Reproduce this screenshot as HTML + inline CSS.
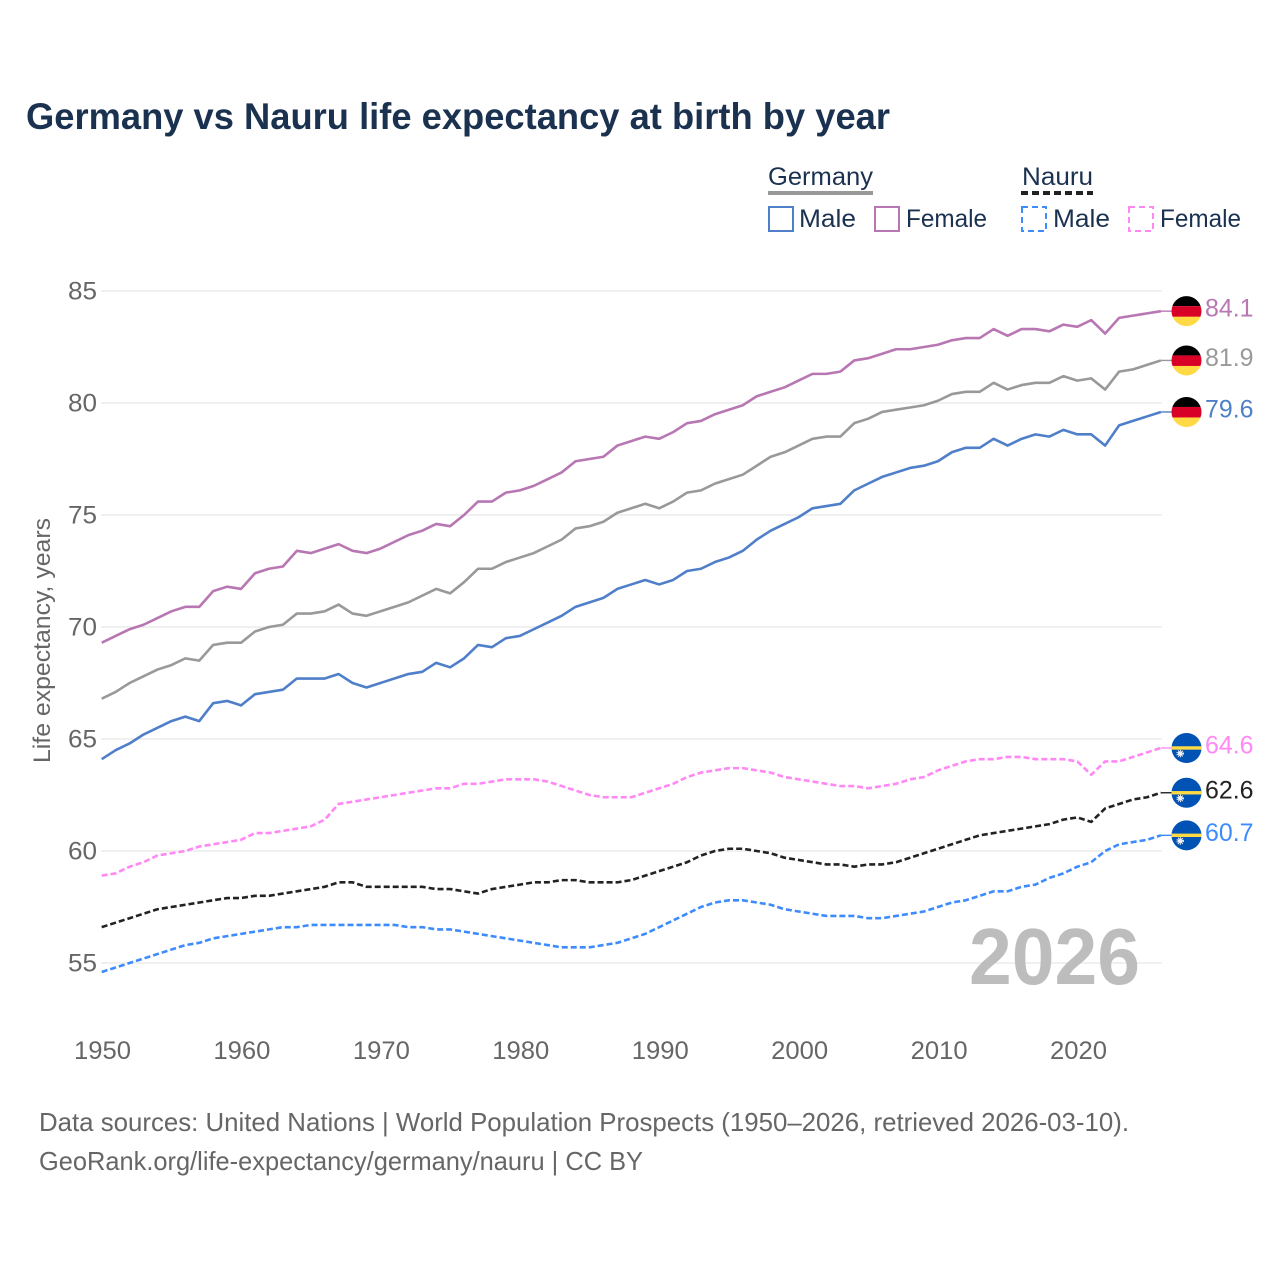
<!DOCTYPE html>
<html lang="en">
<head>
<meta charset="utf-8">
<title>Germany vs Nauru life expectancy at birth by year</title>
<style>
html,body{margin:0;padding:0;background:#fff;}
svg{display:block;font-family:"Liberation Sans",sans-serif;}
</style>
</head>
<body>
<svg id="chart" xmlns="http://www.w3.org/2000/svg" width="1280" height="1280" viewBox="0 0 1280 1280">
  <defs id="defs"></defs>
  <rect x="0" y="0" width="1280" height="1280" fill="#ffffff"/>
  <text x="26" y="129" font-size="37" font-weight="700" fill="#1a3150" textLength="864" lengthAdjust="spacingAndGlyphs">Germany vs Nauru life expectancy at birth by year</text>

  <g font-size="25" fill="#1a3150">
    <text x="768" y="185" textLength="105" lengthAdjust="spacingAndGlyphs">Germany</text>
    <line x1="768" x2="873" y1="193" y2="193" stroke="#999999" stroke-width="4"/>
    <rect x="769" y="207" width="24" height="24" fill="none" stroke="#4f7fc9" stroke-width="2"/>
    <text x="799" y="227" textLength="57" lengthAdjust="spacingAndGlyphs">Male</text>
    <rect x="875" y="207" width="24" height="24" fill="none" stroke="#b877b3" stroke-width="2"/>
    <text x="906" y="227" textLength="81" lengthAdjust="spacingAndGlyphs">Female</text>
    <text x="1022" y="185" textLength="71" lengthAdjust="spacingAndGlyphs">Nauru</text>
    <line x1="1021" x2="1093" y1="193" y2="193" stroke="#222222" stroke-width="4" stroke-dasharray="7,4"/>
    <rect x="1022" y="207" width="24" height="24" fill="none" stroke="#3d8bfd" stroke-width="2" stroke-dasharray="6,4"/>
    <text x="1053" y="227" textLength="57" lengthAdjust="spacingAndGlyphs">Male</text>
    <rect x="1129" y="207" width="24" height="24" fill="none" stroke="#ff88f5" stroke-width="2" stroke-dasharray="6,4"/>
    <text x="1160" y="227" textLength="81" lengthAdjust="spacingAndGlyphs">Female</text>
  </g>

  <g id="grid"></g>
  <g id="yticks"></g>
  <g id="xticks"></g>
  <text transform="translate(50,640.5) rotate(-90)" text-anchor="middle" font-size="24" fill="#666666" textLength="245" lengthAdjust="spacingAndGlyphs">Life expectancy, years</text>
  <text x="969" y="984" font-size="80" font-weight="700" fill="#bdbdbd" textLength="171" lengthAdjust="spacingAndGlyphs">2026</text>
  <g id="series"></g>
  <g id="endmarks"></g>

  <text x="39" y="1131" font-size="26" fill="#666666" textLength="1090" lengthAdjust="spacingAndGlyphs">Data sources: United Nations | World Population Prospects (1950–2026, retrieved 2026-03-10).</text>
  <text x="39" y="1170" font-size="26" fill="#666666" textLength="604" lengthAdjust="spacingAndGlyphs">GeoRank.org/life-expectancy/germany/nauru | CC BY</text>
</svg>
<script>
const firstYear = 1950;
const lastYear = 2026;
const xTickLabels = [1950, 1960, 1970, 1980, 1990, 2000, 2010, 2020];
const yTickLabels = [55, 60, 65, 70, 75, 80, 85];

const germanyFemale = [69.3,69.6,69.9,70.1,70.4,70.7,70.9,70.9,71.6,71.8,
  71.7,72.4,72.6,72.7,73.4,73.3,73.5,73.7,73.4,73.3,
  73.5,73.8,74.1,74.3,74.6,74.5,75.0,75.6,75.6,76.0,
  76.1,76.3,76.6,76.9,77.4,77.5,77.6,78.1,78.3,78.5,
  78.4,78.7,79.1,79.2,79.5,79.7,79.9,80.3,80.5,80.7,
  81.0,81.3,81.3,81.4,81.9,82.0,82.2,82.4,82.4,82.5,
  82.6,82.8,82.9,82.9,83.3,83.0,83.3,83.3,83.2,83.5,
  83.4,83.7,83.1,83.8,83.9,84.0,84.1];
const germanyTotal = [66.8,67.1,67.5,67.8,68.1,68.3,68.6,68.5,69.2,69.3,
  69.3,69.8,70.0,70.1,70.6,70.6,70.7,71.0,70.6,70.5,
  70.7,70.9,71.1,71.4,71.7,71.5,72.0,72.6,72.6,72.9,
  73.1,73.3,73.6,73.9,74.4,74.5,74.7,75.1,75.3,75.5,
  75.3,75.6,76.0,76.1,76.4,76.6,76.8,77.2,77.6,77.8,
  78.1,78.4,78.5,78.5,79.1,79.3,79.6,79.7,79.8,79.9,
  80.1,80.4,80.5,80.5,80.9,80.6,80.8,80.9,80.9,81.2,
  81.0,81.1,80.6,81.4,81.5,81.7,81.9];
const germanyMale = [64.1,64.5,64.8,65.2,65.5,65.8,66.0,65.8,66.6,66.7,
  66.5,67.0,67.1,67.2,67.7,67.7,67.7,67.9,67.5,67.3,
  67.5,67.7,67.9,68.0,68.4,68.2,68.6,69.2,69.1,69.5,
  69.6,69.9,70.2,70.5,70.9,71.1,71.3,71.7,71.9,72.1,
  71.9,72.1,72.5,72.6,72.9,73.1,73.4,73.9,74.3,74.6,
  74.9,75.3,75.4,75.5,76.1,76.4,76.7,76.9,77.1,77.2,
  77.4,77.8,78.0,78.0,78.4,78.1,78.4,78.6,78.5,78.8,
  78.6,78.6,78.1,79.0,79.2,79.4,79.6];
const nauruFemale = [58.9,59.0,59.3,59.5,59.8,59.9,60.0,60.2,60.3,60.4,
  60.5,60.8,60.8,60.9,61.0,61.1,61.4,62.1,62.2,62.3,
  62.4,62.5,62.6,62.7,62.8,62.8,63.0,63.0,63.1,63.2,
  63.2,63.2,63.1,62.9,62.7,62.5,62.4,62.4,62.4,62.6,
  62.8,63.0,63.3,63.5,63.6,63.7,63.7,63.6,63.5,63.3,
  63.2,63.1,63.0,62.9,62.9,62.8,62.9,63.0,63.2,63.3,
  63.6,63.8,64.0,64.1,64.1,64.2,64.2,64.1,64.1,64.1,
  64.0,63.4,64.0,64.0,64.2,64.4,64.6];
const nauruTotal = [56.6,56.8,57.0,57.2,57.4,57.5,57.6,57.7,57.8,57.9,
  57.9,58.0,58.0,58.1,58.2,58.3,58.4,58.6,58.6,58.4,
  58.4,58.4,58.4,58.4,58.3,58.3,58.2,58.1,58.3,58.4,
  58.5,58.6,58.6,58.7,58.7,58.6,58.6,58.6,58.7,58.9,
  59.1,59.3,59.5,59.8,60.0,60.1,60.1,60.0,59.9,59.7,
  59.6,59.5,59.4,59.4,59.3,59.4,59.4,59.5,59.7,59.9,
  60.1,60.3,60.5,60.7,60.8,60.9,61.0,61.1,61.2,61.4,
  61.5,61.3,61.9,62.1,62.3,62.4,62.6];
const nauruMale = [54.6,54.8,55.0,55.2,55.4,55.6,55.8,55.9,56.1,56.2,
  56.3,56.4,56.5,56.6,56.6,56.7,56.7,56.7,56.7,56.7,
  56.7,56.7,56.6,56.6,56.5,56.5,56.4,56.3,56.2,56.1,
  56.0,55.9,55.8,55.7,55.7,55.7,55.8,55.9,56.1,56.3,
  56.6,56.9,57.2,57.5,57.7,57.8,57.8,57.7,57.6,57.4,
  57.3,57.2,57.1,57.1,57.1,57.0,57.0,57.1,57.2,57.3,
  57.5,57.7,57.8,58.0,58.2,58.2,58.4,58.5,58.8,59.0,
  59.3,59.5,60.0,60.3,60.4,60.5,60.7];

const NS = 'http://www.w3.org/2000/svg';
const xScale = (year) => 101.7 + (year - firstYear) * (1160.9 - 101.7) / (lastYear - firstYear);
const xLabelScale = (year) => 102.5 + (year - firstYear) * 13.943;
const yScale = (value) => 963 - (value - 55) * 22.4;
const mk = (tag) => document.createElementNS(NS, tag);
const set = (el, props) => { for (const k in props) el.setAttribute(k, props[k]); return el; };

const gridG = document.getElementById('grid');
const yG = document.getElementById('yticks');
const xG = document.getElementById('xticks');
const seriesG = document.getElementById('series');
const endG = document.getElementById('endmarks');
const defs = document.getElementById('defs');

yTickLabels.forEach((v) => {
  const line = set(mk('line'), {x1: 101, x2: 1162, y1: yScale(v), y2: yScale(v), stroke: '#ececec', 'stroke-width': 1.5});
  
  
  gridG.appendChild(line);
  const t = set(mk('text'), {x: 97, y: yScale(v) + 8.5, 'text-anchor': 'end', 'font-size': 25, fill: '#666666', textLength: 29, lengthAdjust: 'spacingAndGlyphs'});
  
  
  t.textContent = v;
  yG.appendChild(t);
});

xTickLabels.forEach((yr) => {
  const t = set(mk('text'), {x: xLabelScale(yr), y: 1059, 'text-anchor': 'middle', 'font-size': 25, fill: '#666666', textLength: 57, lengthAdjust: 'spacingAndGlyphs'});
  
  
  t.textContent = yr;
  xG.appendChild(t);
});

function drawSeries(name, values, color, dash) {
  const pts = values.map((v, i) => xScale(firstYear + i).toFixed(2) + ',' + yScale(v).toFixed(2)).join(' ');
  const line = set(mk('polyline'), {points: pts, fill: 'none', stroke: color, 'stroke-width': 2.6, 'stroke-linejoin': 'round'});
  if (dash) line.setAttribute('stroke-dasharray', '6,3');
  
  
  seriesG.appendChild(line);
}

function drawEnd(name, values, color, country) {
  const value = values[values.length - 1];
  const y = yScale(value);
  const cx = 1186.5;
  const conn = set(mk('line'), {x1: xScale(lastYear), x2: cx - 12, y1: y, y2: y, stroke: color, 'stroke-width': 1.4});
  
  
  endG.appendChild(conn);

  const clipId = 'clip-' + name;
  const clip = set(mk('clipPath'), {id: clipId});
  clip.appendChild(set(mk('circle'), {cx: cx, cy: y, r: 15}));
  defs.appendChild(clip);

  const flag = set(mk('g'), {'clip-path': 'url(#' + clipId + ')'});
  
  
  if (country === 'germany') {
    flag.appendChild(set(mk('rect'), {x: cx - 16, y: y - 16, width: 32, height: 11, fill: '#000000'}));
    flag.appendChild(set(mk('rect'), {x: cx - 16, y: y - 5, width: 32, height: 11, fill: '#d80027'}));
    flag.appendChild(set(mk('rect'), {x: cx - 16, y: y + 5.5, width: 32, height: 11, fill: '#ffda44'}));
  } else {
    flag.appendChild(set(mk('rect'), {x: cx - 16, y: y - 16, width: 32, height: 32, fill: '#0052b4'}));
    flag.appendChild(set(mk('rect'), {x: cx - 16, y: y - 1.7, width: 32, height: 3.4, fill: '#ffda44'}));
    flag.appendChild(set(mk('circle'), {cx: cx - 6.3, cy: y + 5.6, r: 2.4, fill: '#f0f0f0'}));
    flag.appendChild(set(mk('circle'), {cx: cx - 6.3, cy: y + 5.6, r: 3.1, fill: 'none', stroke: '#f0f0f0', 'stroke-width': 1.4, 'stroke-dasharray': '1,1'}));
  }
  endG.appendChild(flag);

  const label = set(mk('text'), {x: 1205, y: y + 5.5, 'font-size': 25, fill: color, textLength: 48.5, lengthAdjust: 'spacingAndGlyphs'});
  
  
  label.textContent = value.toFixed(1);
  endG.appendChild(label);
}

drawSeries('germany-female', germanyFemale, '#b877b3', false);
drawSeries('germany-total', germanyTotal, '#999999', false);
drawSeries('germany-male', germanyMale, '#4f7fc9', false);
drawSeries('nauru-female', nauruFemale, '#ff88f5', true);
drawSeries('nauru-total', nauruTotal, '#222222', true);
drawSeries('nauru-male', nauruMale, '#3d8bfd', true);

drawEnd('germany-female', germanyFemale, '#b877b3', 'germany');
drawEnd('germany-total', germanyTotal, '#999999', 'germany');
drawEnd('germany-male', germanyMale, '#4f7fc9', 'germany');
drawEnd('nauru-female', nauruFemale, '#ff88f5', 'nauru');
drawEnd('nauru-total', nauruTotal, '#222222', 'nauru');
drawEnd('nauru-male', nauruMale, '#3d8bfd', 'nauru');
</script>
</body>
</html>
